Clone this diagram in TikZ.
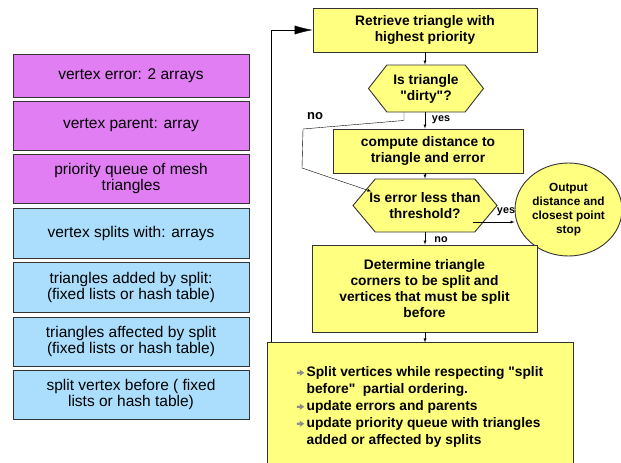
\documentclass[tikz,border=0pt]{standalone}
\usepackage{fontspec}
\setmainfont{Liberation Sans}[Ligatures=TeXOff]
\usepackage{xcolor}
\usetikzlibrary{arrows}
\usetikzlibrary{arrows.meta}
\usetikzlibrary{shapes.symbols, shapes.geometric}

\definecolor{magfill}{RGB}{226,126,244}
\definecolor{bluefill}{RGB}{170,222,252}
\definecolor{yelfill}{RGB}{255,255,128}
\newcommand{\blt}{\tikz[baseline=-3.8pt]\fill[black!45] (0pt,-1.1pt) -- (3.5pt,-1.1pt) -- (2.8pt,-3.2pt) -- (7.5pt,0pt) -- (2.8pt,3.2pt) -- (3.5pt,1.1pt) -- (0pt,1.1pt) -- cycle;\,}

\begin{document}
\begin{tikzpicture}[x=1pt,y=-1pt,
  box/.style={draw=black!80, line width=0.9, inner sep=0, align=center},
  magbox/.style={box, fill=magfill, minimum width=236, font=\fontsize{15.5}{16}\selectfont},
  bluebox/.style={magbox, fill=bluefill},
  flowbox/.style={box, fill=yelfill, font=\bfseries\fontsize{13.8}{16}\selectfont},
  decide/.style={flowbox, signal, signal to=west and east, signal pointer angle=104},
  hextext/.style={align=center, inner sep=0, font=\bfseries\fontsize{13.8}{16}\selectfont},
  lbl/.style={font=\bfseries\fontsize{10.8}{11}\selectfont, inner sep=0}]
\useasboundingbox (0,0) rectangle (621,463);

% data structures
\foreach \yy/\hh/\sty/\txt [count=\i] in {
  75.5/43/magbox/{vertex error: 2 arrays},
  125.5/49/magbox/{vertex parent: array},
  178.5/49/magbox/{priority queue of mesh\\triangles},
  233/50/bluebox/{vertex splits with: arrays},
  287/50/bluebox/{triangles added by split:\\(fixed lists or hash table)},
  341.5/49/bluebox/{triangles affected by split\\(fixed lists or hash table)},
  394.5/49/bluebox/{split vertex before ( fixed\\lists or hash table)}}{
  \node[\sty, minimum height=\hh] (ds\i) at (131,\yy) {\txt};
}

% flow chart
\node[flowbox, minimum width=224, minimum height=44] (retrieve) at (425,30) {Retrieve triangle with\\highest priority};
\node[decide, minimum width=115, minimum height=47,
  label={[hextext]center:Is triangle\\"dirty"?}] (dirty) at (426,88.5) {};
\node[flowbox, minimum width=190, minimum height=44] (compute) at (428,151) {compute distance to\\triangle and error};
\node[decide, minimum width=144, minimum height=53, signal pointer angle=100,
  label={[hextext]center:Is error less than\\threshold?}] (errhex) at (425,205.5) {};
\node[flowbox, ellipse, minimum width=107, minimum height=93,
  font=\bfseries\fontsize{11.8}{14}\selectfont] (circ) at (568.5,209.5) {Output\\distance and\\closest point\\stop};
\node[flowbox, minimum width=225, minimum height=87] (determine) at (424.5,288.5) {Determine triangle\\corners to be split and\\vertices that must be split\\before};
\node[flowbox, minimum width=306, minimum height=130, align=left,
  font=\bfseries\fontsize{13.8}{17}\selectfont] (bigbox) at (420,407) {\blt Split vertices while respecting "split\\
\phantom{\blt}before"\ \ partial ordering.\\
\blt update errors and parents\\
\blt update priority queue with triangles\\
\phantom{\blt}added or affected by splits};

\draw[-latex] (retrieve.south) -- (retrieve.south |- dirty.north);
\draw[-latex] (dirty.south -| retrieve) -- (retrieve |- compute.north);
\draw[-latex] (compute.south -| errhex) -- (errhex.north);
\draw[-latex] (errhex.south) -- (errhex.south |- determine.north);
\draw[-latex] (determine.south -| errhex) -- ++(0,10);

% not dirty: skip the distance
\coordinate (nobend1) at (303,129);
\coordinate (nobend2) at (302,168);
\draw[-latex] ([xshift=-22pt]dirty.south) -- ++(0,8) -- (nobend1) -- (nobend2) -- ([xshift=19pt,yshift=14pt]errhex.west);

\coordinate (yesfrom) at ([xshift=-25pt,yshift=-16.5pt]errhex.east);
\draw[-latex] (yesfrom) -- (yesfrom -| circ.west);

% back to the queue
\draw[-{Latex[length=18pt,width=9pt]}] ([xshift=5pt]bigbox.north west) |- (retrieve.west);

\node[lbl, font=\bfseries\fontsize{13}{13}\selectfont] (nolbl1) at (315,116) {no};
\node[lbl] (yeslbl1) at (441,120) {yes};
\node[lbl] (yeslbl2) at (506,212) {yes};
\node[lbl] (nolbl2) at (441,240) {no};

\end{tikzpicture}
\end{document}
